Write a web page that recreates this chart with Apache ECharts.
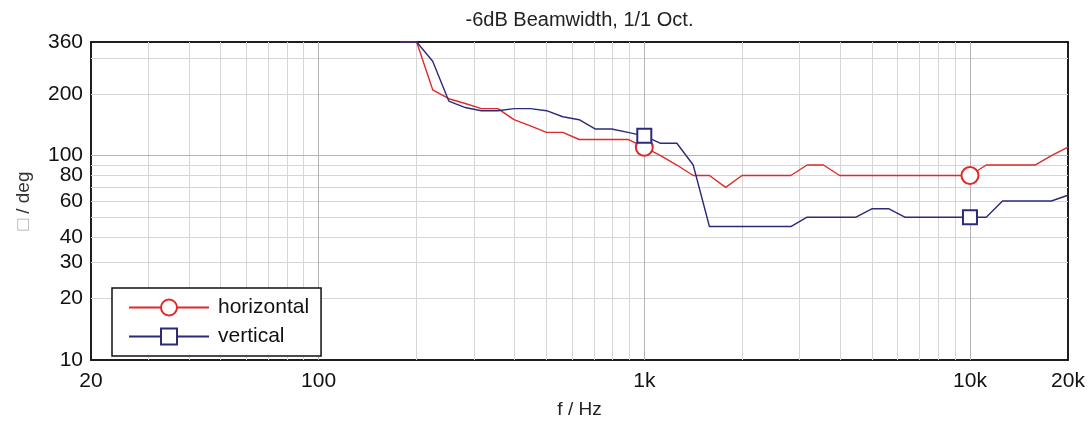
<!DOCTYPE html>
<html>
<head>
<meta charset="utf-8">
<script src="https://cdn.jsdelivr.net/npm/echarts@6/dist/echarts.min.js"></script>
<style>
html,body{margin:0;padding:0;background:#fff;}
#chart{width:1092px;height:426px;}
</style>
</head>
<body>
<div id="chart"></div>
<script>
// ---- data ----
const freqs = [178, 200, 224, 251, 282, 316, 355, 398, 447, 501, 562, 631, 708, 794, 891,
  1000, 1122, 1259, 1413, 1585, 1778, 1995, 2239, 2512, 2818, 3162, 3548, 3981, 4467, 5012,
  5623, 6310, 7079, 7943, 8913, 10000, 11220, 12589, 14125, 15849, 17783, 20000];
const horizontal = [360, 360, 210, 190, 180, 170, 170, 150, 140, 130, 130, 120, 120, 120, 120,
  110, 100, 90, 80, 80, 70, 80, 80, 80, 80, 90, 90, 80, 80, 80,
  80, 80, 80, 80, 80, 80, 90, 90, 90, 90, 100, 110];
const vertical = [360, 360, 290, 185, 172, 166, 166, 170, 170, 166, 155, 150, 135, 135, 130,
  125, 115, 115, 90, 45, 45, 45, 45, 45, 45, 50, 50, 50, 50, 55,
  55, 50, 50, 50, 50, 50, 50, 60, 60, 60, 60, 64];
const markerFreqs = [1000, 10000];
const xTickLabels = [20, 100, 1000, 10000, 20000];
const yTickLabels = [10, 20, 30, 40, 60, 80, 100, 200, 360];
const xGridMinor = [30, 40, 50, 60, 70, 80, 90, 200, 300, 400, 500, 600, 700, 800, 900,
  2000, 3000, 4000, 5000, 6000, 7000, 8000, 9000];
const xGridMajor = [100, 1000, 10000];
const yGridMinor = [20, 30, 40, 50, 60, 70, 80, 90, 200, 300];
const yGridMajor = [100];

const title = '-6dB Beamwidth, 1/1 Oct.';
const xName = 'f / Hz';

// ---- build ----
function buildData(vals, sym, size) {
  return freqs.map((f, i) => {
    const item = { value: [f, vals[i]] };
    if (markerFreqs.indexOf(f) >= 0) { item.symbol = sym; item.symbolSize = size; }
    else { item.symbol = 'none'; }
    return item;
  });
}
const xTicks = xGridMinor.concat(xGridMajor);
const yTicks = yGridMinor.concat(yGridMajor);
const fmtX = v => v >= 1000 ? (v / 1000) + 'k' : String(v);
const FONT = 'Liberation Sans, Arial, sans-serif';
const tickStyle = { color: '#8a8a8a', width: 1 };

const gridLines = []
  .concat(xGridMinor.map(v => ({ xAxis: v, lineStyle: { color: '#d6d6d6', width: 1, type: 'solid' } })))
  .concat(yGridMinor.map(v => ({ yAxis: v, lineStyle: { color: '#d6d6d6', width: 1, type: 'solid' } })))
  .concat(xGridMajor.map(v => ({ xAxis: v, lineStyle: { color: '#b4b4b4', width: 1, type: 'solid' } })))
  .concat(yGridMajor.map(v => ({ yAxis: v, lineStyle: { color: '#b4b4b4', width: 1, type: 'solid' } })));

const chart = echarts.init(document.getElementById('chart'), null, { renderer: 'canvas' });
chart.setOption({
  animation: false,
  backgroundColor: '#fff',
  textStyle: { fontFamily: FONT },
  grid: { left: 91, right: 24, top: 42, bottom: 66, show: true, borderColor: '#111', borderWidth: 1.5, containLabel: false },
  legend: {
    data: ['horizontal', 'vertical'],
    orient: 'vertical',
    left: 112, top: 288,
    padding: [9, 12, 9, 16],
    itemWidth: 80, itemHeight: 20, itemGap: 8,
    backgroundColor: '#fff', borderColor: '#111', borderWidth: 1.5, borderRadius: 0,
    textStyle: { fontSize: 21, color: '#111', fontFamily: FONT, padding: [0, 0, 0, 4] }
  },
  xAxis: [{
    type: 'log', logBase: 10, min: 20, max: 20000, position: 'bottom',
    name: xName, nameLocation: 'middle', nameGap: 40,
    nameTextStyle: { fontSize: 19, color: '#222', fontFamily: FONT },
    axisLine: { show: true, lineStyle: { color: '#111', width: 1.5 } },
    axisTick: { show: true, inside: true, length: 7, customValues: xTicks, lineStyle: tickStyle },
    axisLabel: { fontSize: 21, color: '#111', margin: 11, fontFamily: FONT, customValues: xTickLabels, showMinLabel: true, showMaxLabel: true, formatter: fmtX },
    splitLine: { show: false }, minorTick: { show: false }
  }, {
    type: 'log', logBase: 10, min: 20, max: 20000, position: 'top',
    name: title, nameLocation: 'middle', nameGap: 12,
    nameTextStyle: { fontSize: 20, color: '#222', fontFamily: FONT },
    axisLine: { show: true, lineStyle: { color: '#111', width: 1.5 } },
    axisTick: { show: true, inside: true, length: 7, customValues: xTicks, lineStyle: tickStyle },
    axisLabel: { show: false }, splitLine: { show: false }
  }],
  yAxis: [{
    type: 'log', logBase: 10, min: 10, max: 360, position: 'left',
    name: '{b|□} / deg', nameLocation: 'middle', nameGap: 58,
    nameTextStyle: { fontSize: 19, color: '#333', fontFamily: FONT, rich: { b: { color: '#aaa', fontSize: 19 } } },
    axisLine: { show: true, lineStyle: { color: '#111', width: 1.5 } },
    axisTick: { show: true, inside: true, length: 7, customValues: yTicks, lineStyle: tickStyle },
    axisLabel: { fontSize: 21, color: '#111', margin: 8, fontFamily: FONT, customValues: yTickLabels, showMinLabel: true, showMaxLabel: true },
    splitLine: { show: false }
  }, {
    type: 'log', logBase: 10, min: 10, max: 360, position: 'right',
    axisLine: { show: true, lineStyle: { color: '#111', width: 1.5 } },
    axisTick: { show: true, inside: true, length: 7, customValues: yTicks, lineStyle: tickStyle },
    axisLabel: { show: false }, splitLine: { show: false }
  }],
  series: [{
    name: 'grid', type: 'line', data: [], z: 1, silent: true,
    markLine: { silent: true, z: 1, symbol: ['none', 'none'], label: { show: false }, animation: false, data: gridLines }
  }, {
    name: 'horizontal', type: 'line', z: 3,
    symbol: 'emptyCircle', symbolSize: 17, showSymbol: true, showAllSymbol: true,
    color: '#dd2a2a',
    lineStyle: { color: '#dd2a2a', width: 1.4 },
    itemStyle: { color: '#dd2a2a', borderWidth: 1.4 },
    data: buildData(horizontal, 'emptyCircle', 17)
  }, {
    name: 'vertical', type: 'line', z: 3,
    symbol: 'emptyRect', symbolSize: 14, showSymbol: true, showAllSymbol: true,
    color: '#2b2b7a',
    lineStyle: { color: '#2b2b7a', width: 1.4 },
    itemStyle: { color: '#2b2b7a', borderWidth: 1.4 },
    data: buildData(vertical, 'emptyRect', 14)
  }]
});
</script>
</body>
</html>
